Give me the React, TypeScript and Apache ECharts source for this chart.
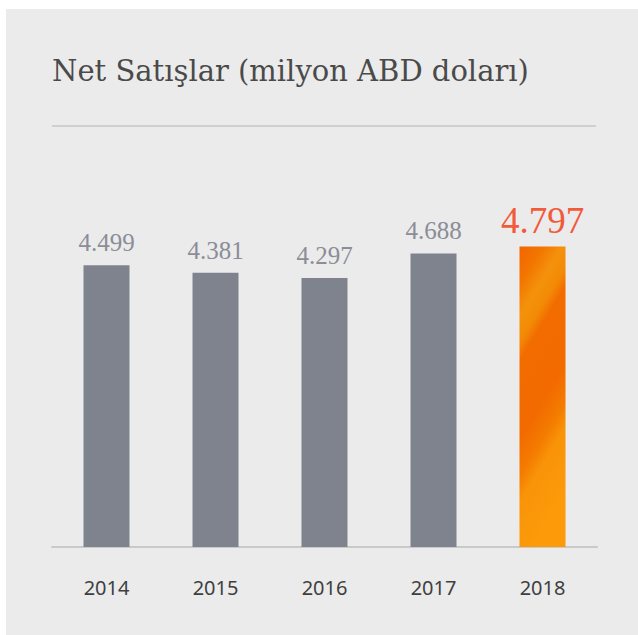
import React, { useEffect, useRef } from "react";
import * as echarts from "echarts";

const title = "Net Satışlar (milyon ABD doları)";
const years = ["2014", "2015", "2016", "2017", "2018"];
const sales = [4.499, 4.381, 4.297, 4.688, 4.797];
const valueLabels = ["4.499", "4.381", "4.297", "4.688", "4.797"];

export default function App() {
  const ref = useRef<HTMLDivElement>(null);
  useEffect(() => {
    if (!ref.current) return;
    const chart = echarts.init(ref.current, undefined, { renderer: "svg" });
    const last = sales.length - 1;
    const orange = new echarts.graphic.LinearGradient(0, 0, 0.25, 1, [
      { offset: 0, color: "#f26400" },
      { offset: 0.12, color: "#f37600" },
      { offset: 0.22, color: "#f4920c" },
      { offset: 0.3, color: "#f38a06" },
      { offset: 0.36, color: "#f26c00" },
      { offset: 0.6, color: "#f26a00" },
      { offset: 0.72, color: "#f47c00" },
      { offset: 0.8, color: "#f99308" },
      { offset: 1, color: "#fc9a0a" },
    ]);
    chart.setOption({
      animation: false,
      backgroundColor: "#ffffff",
      graphic: [
        {
          type: "rect",
          z: -10,
          shape: { x: 6, y: 9, width: 632, height: 626 },
          style: { fill: "#ebebeb" },
          silent: true,
        },
        {
          type: "text",
          x: 52,
          y: 56,
          style: {
            text: title,
            font: "29px 'DejaVu Serif', serif",
            fill: "#4a4a4a",
            verticalAlign: "top",
          },
        },
        {
          type: "line",
          shape: { x1: 52, y1: 126, x2: 596, y2: 126 },
          style: { stroke: "#c6c6c6", lineWidth: 1.5 },
        },
      ],
      grid: { left: 52, right: 41, top: 233.9, bottom: 88, containLabel: false },
      xAxis: {
        type: "category",
        data: years,
        axisLine: { show: true, lineStyle: { color: "#c9c9c9", width: 2 } },
        axisTick: { show: false },
        axisLabel: {
          color: "#3f3f3f",
          fontFamily: "'Noto Sans', sans-serif",
          fontSize: 20,
          margin: 30,
        },
      },
      yAxis: {
        type: "value",
        min: 0,
        max: 5,
        show: false,
        splitLine: { show: false },
      },
      series: [
        {
          type: "bar",
          barWidth: 46,
          data: sales.map((v, i) => ({
            value: v,
            itemStyle: { color: i === last ? orange : "#7f838e" },
            label: {
              show: true,
              position: "top",
              distance: i === last ? 8 : 10,
              formatter: valueLabels[i],
              fontFamily: "'Liberation Serif', serif",
              fontSize: i === last ? 37 : 25,
              color: i === last ? "#f15a3a" : "#8b8d97",
            },
          })),
        },
      ],
    });
    return () => chart.dispose();
  }, []);
  return (
    <div
      ref={ref}
      style={{ position: "fixed", left: 0, top: 0, width: 638, height: 635 }}
    />
  );
}
